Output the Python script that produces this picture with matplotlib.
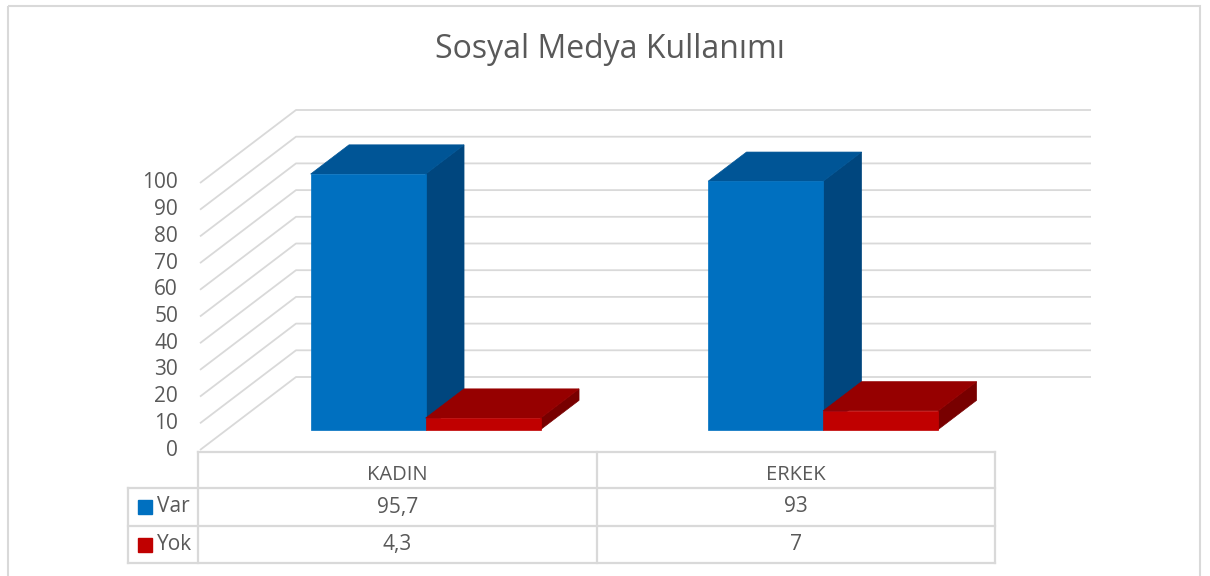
import matplotlib.pyplot as plt
from matplotlib.patches import Polygon, Rectangle

# data
categories = ["KADIN", "ERKEK"]
series = ["Var", "Yok"]
values = {"Var": [95.7, 93], "Yok": [4.3, 7]}
yticks = list(range(0, 101, 10))
title = "Sosyal Medya Kullanımı"

colors = {
    "Var": {"front": "#0070C0", "top": "#005596", "side": "#00467E"},
    "Yok": {"front": "#C00000", "top": "#960000", "side": "#780000"},
}
grid_c = "#D9D9D9"
text_c = "#595959"
font = "Open Sans"

W, H = 1210, 576
fig = plt.figure(figsize=(W / 100, H / 100), dpi=100)

# pixel layer for frame / table
pax = fig.add_axes([0, 0, 1, 1])
pax.set_xlim(0, W)
pax.set_ylim(H, 0)
pax.axis("off")

# chart layer: x in category units, y in value units
x0_px, x1_px = 200, 995          # front plane left/right
y0_px, y100_px = 450, 183        # value 0 / value 100
sx = (x1_px - x0_px) / len(categories)
sy = (y0_px - y100_px) / 100.0
ax = fig.add_axes([0, 0, 1, 1])
ax.set_xlim(-x0_px / sx, (W - x0_px) / sx)
ax.set_ylim(-(H - y0_px) / sy, y0_px / sy)
ax.axis("off")

# oblique depth
DX = 96 / sx
DY = 73 / sy
def P(x, y, d):
    return (x + d * DX, y + d * DY)

# walls / gridlines
ncat = len(categories)
for v in yticks:
    a = P(0, v, 0); b = P(0, v, 1); c = P(ncat, v, 1)
    ax.plot([a[0], b[0], c[0]], [a[1], b[1], c[1]], color=grid_c, lw=1.3,
            solid_capstyle="butt", zorder=1)
    ax.text(a[0] - 22 / sx, v, str(v), ha="right", va="center",
            fontsize=15, color=text_c, family=font)

# bars
bw = 115 / sx
d0, d1 = 0.28, 0.68
for i, cat in enumerate(categories):
    c = i + 0.5
    for j, s in enumerate(series):
        h = values[s][i]
        xl = c - bw + j * bw
        xr = xl + bw
        col = colors[s]
        front = [P(xl, 0, d0), P(xr, 0, d0), P(xr, h, d0), P(xl, h, d0)]
        top = [P(xl, h, d0), P(xr, h, d0), P(xr, h, d1), P(xl, h, d1)]
        side = [P(xr, 0, d0), P(xr, 0, d1), P(xr, h, d1), P(xr, h, d0)]
        for pts, key in [(side, "side"), (top, "top"), (front, "front")]:
            ax.add_patch(Polygon(pts, closed=True, facecolor=col[key],
                                 edgecolor=col[key], lw=0.5, zorder=3))

# title
pax.text(610, 50, title, ha="center", va="center", fontsize=23,
         color=text_c, family=font)

# outer frame
pax.add_patch(Rectangle((8, 6), 1192, 580, fill=False, edgecolor=grid_c, lw=1.5))

# data table
rows_y = [452, 488, 526, 563]
cols_x = [198, 597, 995]
leg_x = 128
lw_t = 1.6
pax.plot([cols_x[0], cols_x[-1]], [rows_y[0]] * 2, color=grid_c, lw=lw_t)
for yy in rows_y[1:]:
    pax.plot([leg_x, cols_x[-1]], [yy] * 2, color=grid_c, lw=lw_t)
for xx in cols_x:
    pax.plot([xx, xx], [rows_y[0], rows_y[-1]], color=grid_c, lw=lw_t)
pax.plot([leg_x, leg_x], [rows_y[1], rows_y[-1]], color=grid_c, lw=lw_t)

for i, cat in enumerate(categories):
    cx = (cols_x[i] + cols_x[i + 1]) / 2
    pax.text(cx, (rows_y[0] + rows_y[1]) / 2 + 5, cat, ha="center", va="center",
             fontsize=14.5, color=text_c, family=font)
    for j, s in enumerate(series):
        v = values[s][i]
        lab = str(v).replace(".", ",")
        pax.text(cx, (rows_y[j + 1] + rows_y[j + 2]) / 2, lab, ha="center",
                 va="center", fontsize=15, color=text_c, family=font)

for j, s in enumerate(series):
    cy = (rows_y[j + 1] + rows_y[j + 2]) / 2
    pax.add_patch(Rectangle((138, cy - 7), 14, 14, color=colors[s]["front"]))
    pax.text(157, cy, s, ha="left", va="center", fontsize=15, color=text_c,
             family=font)

fig.savefig("out.png", dpi=100)
